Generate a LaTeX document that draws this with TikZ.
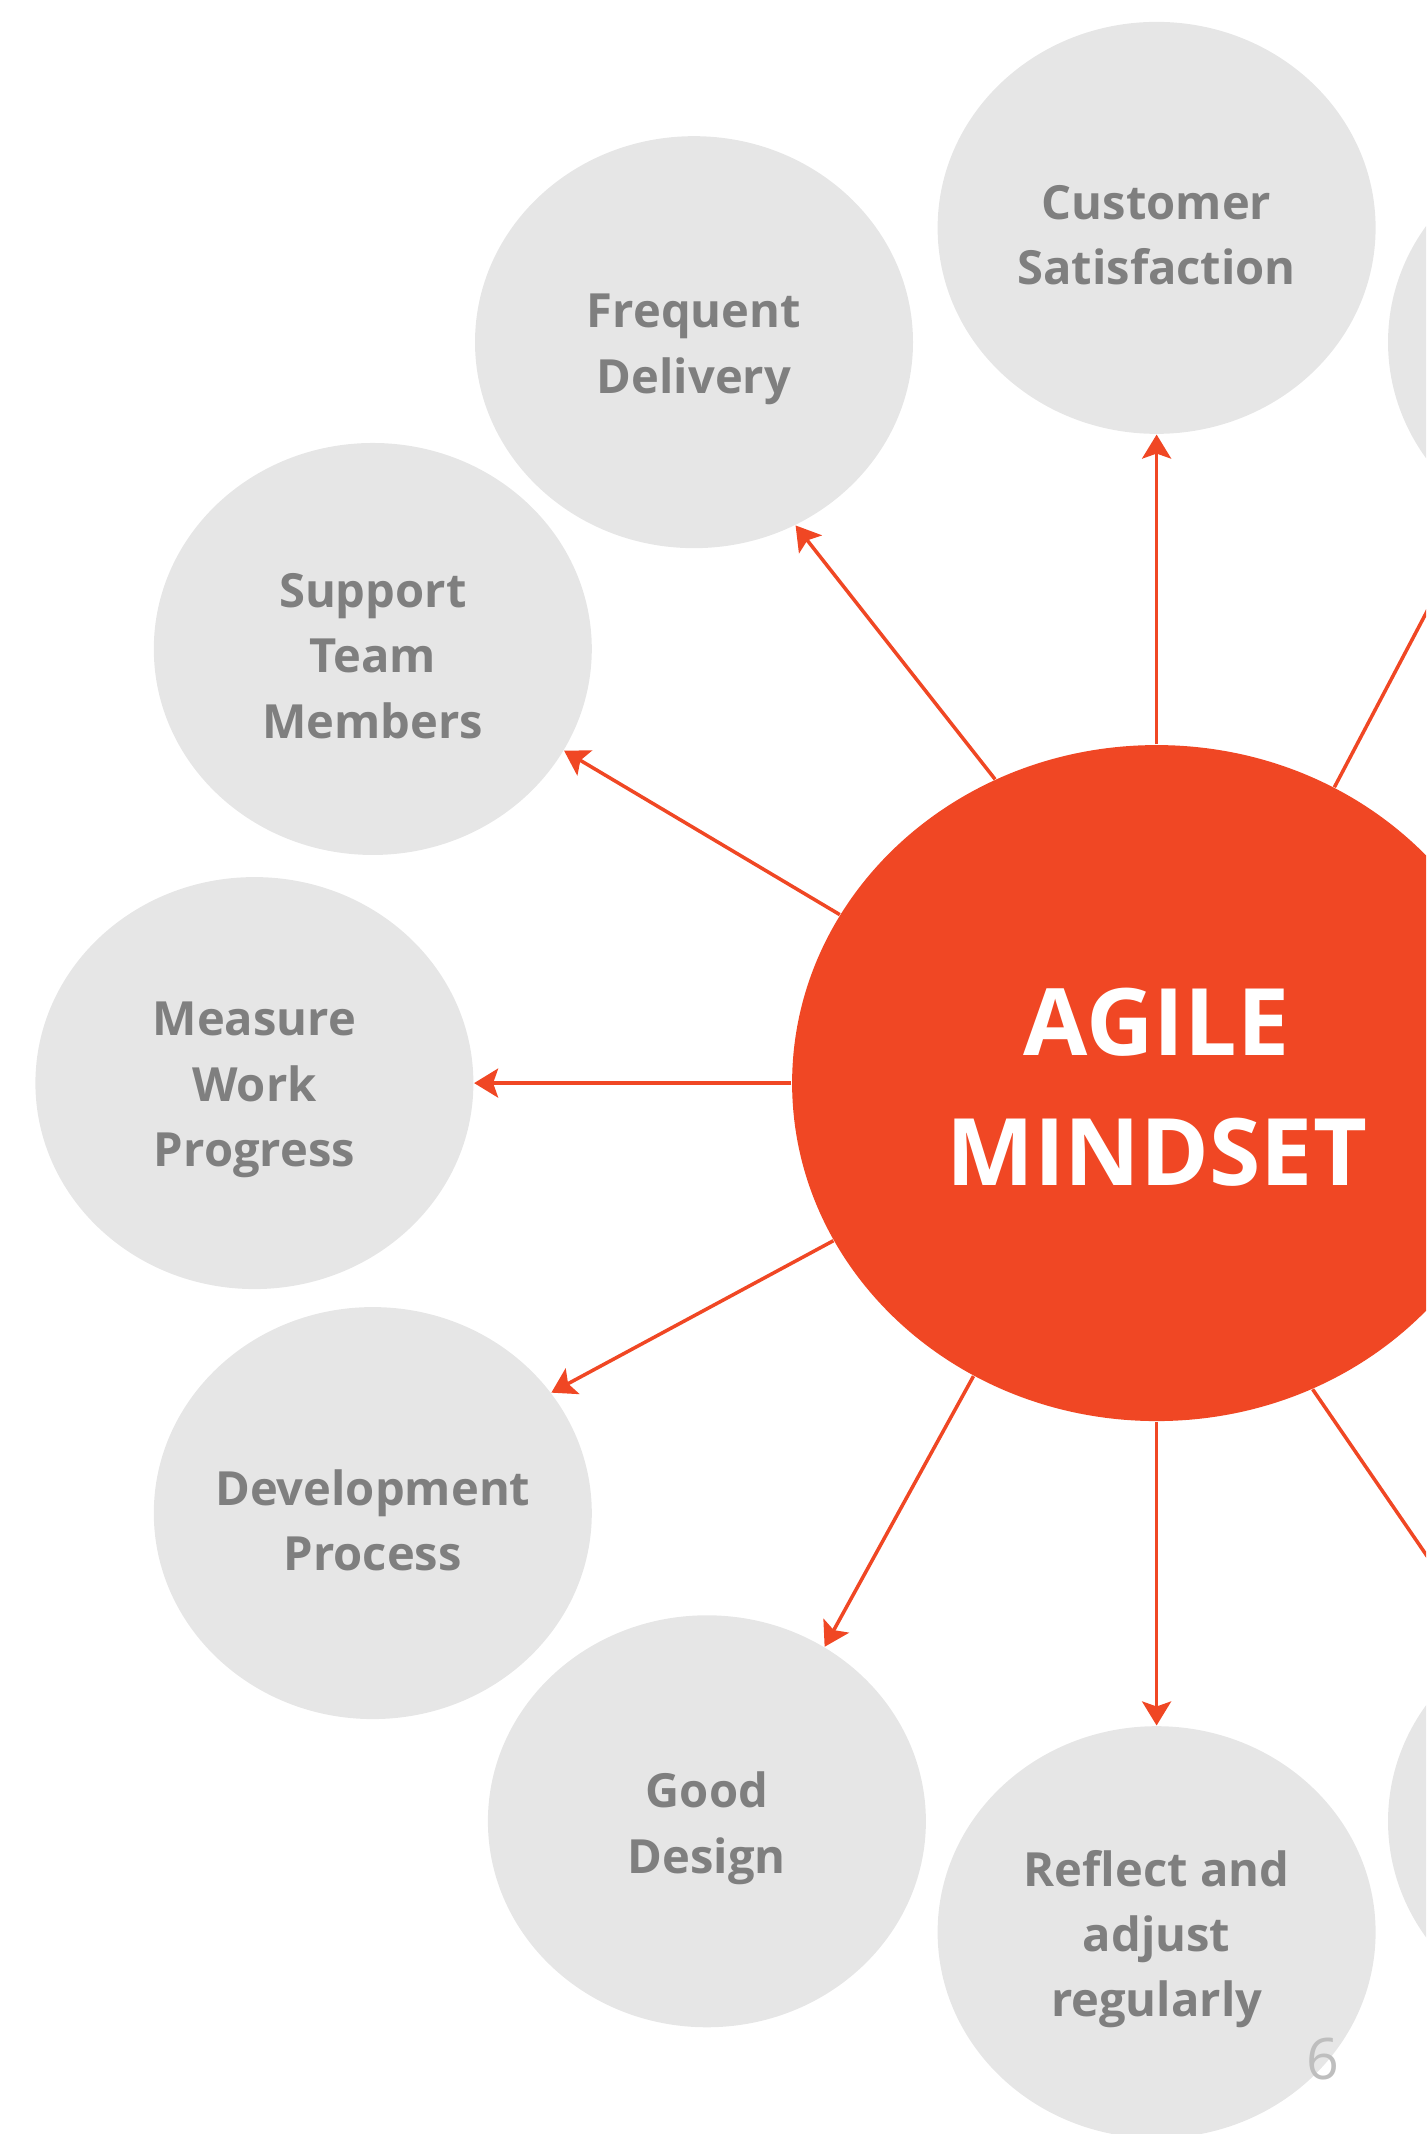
\documentclass[tikz,border=0pt]{standalone}
\usepackage{fontspec}
\setmainfont{Open Sans}
\usepackage{tikz}
\usetikzlibrary{arrows.meta, shapes.geometric}
\usepackage{xcolor}
\definecolor{agilered}{RGB}{240,71,36}
\definecolor{bubblegray}{RGB}{230,230,230}
\definecolor{labelgray}{RGB}{127,127,127}
\definecolor{pagegray}{RGB}{190,190,190}

\begin{document}
\begin{tikzpicture}[
    bubble/.style={ellipse, fill=bubblegray, minimum width=4.38cm, minimum height=4.12cm, inner sep=0pt},
    bubbletext/.style={align=center, text=labelgray, yshift=-0.07cm,
      font=\fontsize{13.4}{18.6}\selectfont\bfseries},
    hub/.style={ellipse, fill=agilered, minimum width=7.29cm, minimum height=6.76cm, inner sep=0pt},
    hubtext/.style={align=center, text=white, yshift=-0.04cm,
      font=\fontsize{26.5}{36.9}\selectfont\bfseries},
    spoke/.style={draw=agilered, line width=1pt, -{Stealth[length=0.24cm, width=0.29cm, inset=0.05cm]}}
  ]
  \useasboundingbox (0,0) rectangle (14.26,21.34);
  \clip (0,0) rectangle (14.26,21.34);

  % Center
  \node[hub, label={[hubtext]center:{AGILE\\MINDSET}}] (agile) at (11.566,10.509) {};

  % Bubbles around the center
  \node[bubble, label={[bubbletext]center:{Customer\\Satisfaction}}] (cs) at (11.566,19.061) {};
  \node[bubble, label={[bubbletext]center:{Frequent\\Delivery}}] (fd) at (6.94,17.918) {};
  \node[bubble, label={[bubbletext]center:{Support\\Team\\Members}}] (stm) at (3.728,14.85) {};
  \node[bubble, label={[bubbletext]center:{Measure\\Work\\Progress}}] (mwp) at (2.544,10.509) {};
  \node[bubble, label={[bubbletext]center:{Development\\Process}}] (dp) at (3.728,6.209) {};
  \node[bubble, label={[bubbletext]center:{Good\\Design}}] (gd) at (7.069,3.127) {};
  \node[bubble, label={[bubbletext]center:{Reflect and\\adjust\\regularly}}] (ra) at (11.566,2.018) {};
  \node[bubble] (rt) at (16.07,17.918) {};
  \node[bubble] (rb) at (16.07,3.127) {};

  % Page number
  \node[text=pagegray, font=\fontsize{16.3}{18}\selectfont] (pagenum) at (13.226,0.753) {6};

  % Arrows
  \draw[spoke] (agile.north) -- (cs.south);
  \draw[spoke] (agile.118.3) -- (fd.-61.3);
  \draw[spoke] (agile.152.6) -- (stm.-28.5);
  \draw[spoke] (agile.west) -- (mwp.east);
  \draw[spoke] (agile.206.3) -- (dp.34.5);
  \draw[spoke] (agile.238.2) -- (gd.56.7);
  \draw[spoke] (agile.south) -- (ra.north);
  \draw[spoke] (agile.59.6) -- (rt.233.7);
  \draw[spoke] (agile.-63) -- (rb.124.8);
\end{tikzpicture}
\end{document}
